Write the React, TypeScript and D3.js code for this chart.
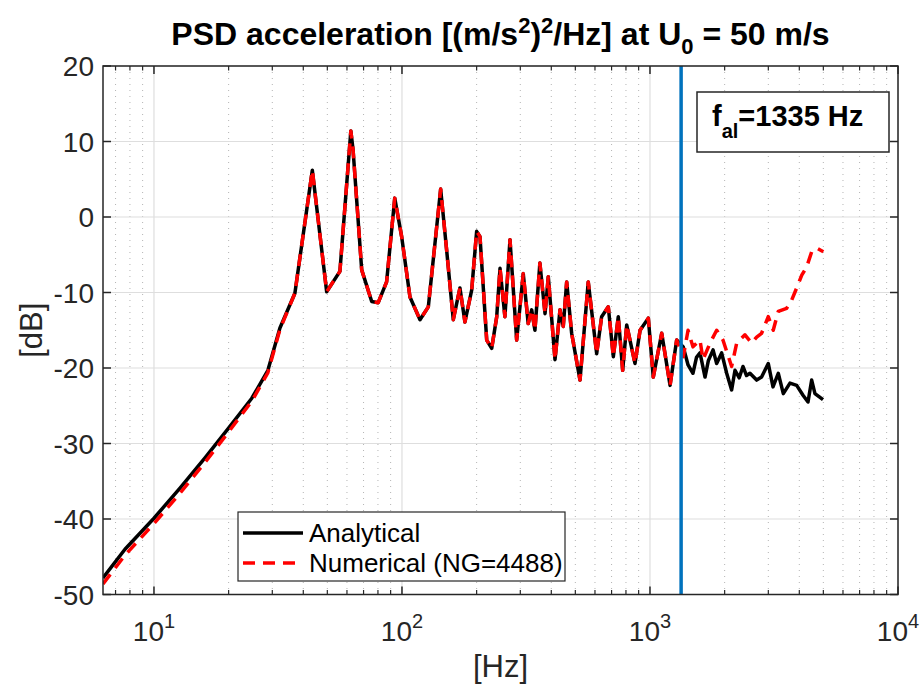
import React from "react";
import * as d3 from "d3";

// ---------- data ----------
const lowFreq = [6.23, 7.64, 10, 12.73, 16.06, 20.06, 24.8, 28.8, 32.2];
const analyticalLowDb = [-47.8, -44.0, -39.9, -35.9, -31.9, -27.9, -24.0, -20.3, -14.7];
const numericalLowDb = [-48.6, -44.8, -40.6, -36.6, -32.5, -28.4, -24.4, -20.6, -14.9];

const sharedFreq = [
  37.0, 43.5, 49.7, 56.2, 62.2, 63.5, 68.8, 75.5, 80.2, 86.7, 93.5, 99.7, 107.7, 118.2, 127.7,
  143.2, 151.4, 161, 171.3, 179.4, 191, 200, 206.3, 219.6, 230, 241, 248.5, 260, 272.6, 290,
  308.3, 322.8, 333.4, 343.6, 359.8, 377.4, 389, 414, 433.6, 447, 461.4, 483.2, 522.2, 563.7,
  609.5, 638.3, 679, 711.5, 745, 776, 805.6, 870, 912, 984.6, 1031, 1115, 1205, 1281,
];
const sharedDb = [
  -10.1, 6.2, -9.9, -7.2, 11.4, 8.9, -7.0, -11.2, -11.35, -8.6, 2.5, -2.6, -10.6, -13.6, -11.9,
  3.7, -4.4, -13.6, -9.4, -13.9, -9.7, -1.9, -2.6, -16.3, -17.4, -13.2, -6.8, -13.2, -3.0, -16.3,
  -7.5, -14.1, -12.3, -15.0, -6.1, -12.8, -7.9, -18.9, -12.3, -14.5, -8.6, -15.4, -21.6, -8.6,
  -18.1, -13.2, -11.9, -18.5, -13.2, -20.3, -14.3, -19.4, -15.0, -13.4, -21.2, -15.4, -22.3, -16.3,
];

const analyticalTailFreq = [
  1362, 1424, 1490, 1540, 1591, 1667, 1720, 1796, 1857, 1945, 2038, 2134, 2202, 2290, 2371, 2450,
  2530, 2692, 2818, 2998, 3133, 3290, 3448, 3668, 3904, 4140, 4336, 4487, 4625, 4985,
];
const analyticalTailDb = [
  -17.2, -19.6, -20.7, -18.6, -18.0, -21.2, -19.0, -17.6, -19.4, -18.0, -20.7, -22.9, -20.3, -21.3, -19.8, -21.0,
  -20.7, -21.6, -21.2, -19.4, -22.5, -20.7, -23.4, -22.0, -22.3, -23.6, -24.5, -21.6, -23.4, -24.2,
];

const numericalTailFreq = [
  1362, 1424, 1490, 1591, 1636, 1746, 1857, 1969, 2134, 2237, 2415, 2570, 2692, 2818, 2998,
  3140, 3290, 3556, 3727, 3904, 4092, 4285, 4487, 4699, 5000,
];
const numericalTailDb = [
  -18.5, -15.0, -17.2, -16.3, -18.9, -16.7, -15.0, -16.3, -19.8, -16.7, -15.6, -16.7, -15.9, -15.4, -13.2,
  -15.0, -12.5, -12.1, -11.0, -9.4, -7.7, -6.6, -4.6, -4.1, -4.6,
];

const yTickValues = [20, 10, 0, -10, -20, -30, -40, -50];
const xTickExponents = [1, 2, 3, 4];
const aliasFreq = 1335;

const seriesNames = ["Analytical", "Numerical (NG=4488)"];

// ---------- layout ----------
const W = 922;
const H = 694;
const L = 103;
const R = 898;
const T = 66;
const B = 594.5;

const FONT = "'Liberation Sans', Arial, Helvetica, sans-serif";
const AXC = "#262626";

export default function App() {
  const x = d3.scaleLog().domain([6.23, 10000]).range([L, R]);
  const y = d3.scaleLinear().domain([-50, 20]).range([B, T]);

  const analytical: [number, number][] = [
    ...lowFreq.map((f, i) => [f, analyticalLowDb[i]] as [number, number]),
    ...sharedFreq.map((f, i) => [f, sharedDb[i]] as [number, number]),
    ...analyticalTailFreq.map((f, i) => [f, analyticalTailDb[i]] as [number, number]),
  ];
  const numerical: [number, number][] = [
    ...lowFreq.map((f, i) => [f, numericalLowDb[i]] as [number, number]),
    ...sharedFreq.map((f, i) => [f, sharedDb[i]] as [number, number]),
    ...numericalTailFreq.map((f, i) => [f, numericalTailDb[i]] as [number, number]),
  ];

  const line = d3
    .line<[number, number]>()
    .x((d) => x(d[0]))
    .y((d) => y(d[1]));

  const majorX = xTickExponents.map((e) => Math.pow(10, e));
  const minorX: number[] = [];
  [0, 1, 2, 3].forEach((e) => {
    for (let k = 2; k <= 9; k++) {
      const v = k * Math.pow(10, e);
      if (v > 6.23 && v < 10000) minorX.push(v);
    }
  });

  return (
    <div style={{ position: "absolute", left: 0, top: 0 }}>
      <svg width={W} height={H} style={{ display: "block", background: "#fff" }} fontFamily={FONT}>
        <defs>
          <clipPath id="plotClip">
            <rect x={L} y={T} width={R - L} height={B - T} />
          </clipPath>
        </defs>
        <rect x={0} y={0} width={W} height={H} fill="#fff" />

        {/* minor grid */}
        {minorX.map((v) => (
          <line key={"mg" + v} x1={x(v)} x2={x(v)} y1={T} y2={B} stroke="#b4b4b4" strokeWidth={1} strokeDasharray="1,5" />
        ))}
        {/* major grid */}
        {majorX.map((v) => (
          <line key={"gx" + v} x1={x(v)} x2={x(v)} y1={T} y2={B} stroke="#dedede" strokeWidth={1.2} />
        ))}
        {yTickValues.map((v) => (
          <line key={"gy" + v} x1={L} x2={R} y1={y(v)} y2={y(v)} stroke="#dedede" strokeWidth={1.2} />
        ))}

        {/* data */}
        <g clipPath="url(#plotClip)">
          <path d={line(analytical) || ""} fill="none" stroke="#000" strokeWidth={3.5} strokeLinejoin="round" />
          <path d={line(numerical) || ""} fill="none" stroke="#ff0000" strokeWidth={3.5} strokeDasharray="12,8" strokeLinejoin="round" />
          <line x1={x(aliasFreq)} x2={x(aliasFreq)} y1={T} y2={B} stroke="#0072BD" strokeWidth={3.5} />
        </g>

        {/* axes box */}
        <rect x={L} y={T} width={R - L} height={B - T} fill="none" stroke={AXC} strokeWidth={1.5} />

        {/* ticks */}
        {majorX.map((v) => (
          <g key={"tx" + v}>
            <line x1={x(v)} x2={x(v)} y1={B} y2={B - 8} stroke={AXC} strokeWidth={1.5} />
            <line x1={x(v)} x2={x(v)} y1={T} y2={T + 8} stroke={AXC} strokeWidth={1.5} />
          </g>
        ))}
        {minorX.map((v) => (
          <g key={"mtx" + v}>
            <line x1={x(v)} x2={x(v)} y1={B} y2={B - 4.5} stroke={AXC} strokeWidth={1.2} />
            <line x1={x(v)} x2={x(v)} y1={T} y2={T + 4.5} stroke={AXC} strokeWidth={1.2} />
          </g>
        ))}
        {yTickValues.map((v) => (
          <g key={"ty" + v}>
            <line x1={L} x2={L + 8} y1={y(v)} y2={y(v)} stroke={AXC} strokeWidth={1.5} />
            <line x1={R} x2={R - 8} y1={y(v)} y2={y(v)} stroke={AXC} strokeWidth={1.5} />
          </g>
        ))}

        {/* y tick labels */}
        {yTickValues.map((v) => (
          <text key={"yl" + v} x={94} y={y(v)} dy="0.36em" textAnchor="end" fontSize={28} fill={AXC}>
            {v}
          </text>
        ))}
        {/* x tick labels */}
        {xTickExponents.map((e) => (
          <text key={"xl" + e} x={x(Math.pow(10, e))} y={641} textAnchor="middle" fontSize={28} fill={AXC}>
            10
            <tspan fontSize={20} dy={-13}>
              {e}
            </tspan>
          </text>
        ))}

        {/* axis labels */}
        <text x={(L + R) / 2} y={677} textAnchor="middle" fontSize={31} fill={AXC}>
          [Hz]
        </text>
        <text transform={`translate(42,${(T + B) / 2}) rotate(-90)`} textAnchor="middle" fontSize={31} fill={AXC}>
          [dB]
        </text>

        {/* title */}
        <text x={(L + R) / 2} y={45} textAnchor="middle" fontSize={32} fontWeight="bold" fill="#000">
          PSD acceleration [(m/s
          <tspan fontSize={22} dy={-12}>2</tspan>
          <tspan dy={12}>)</tspan>
          <tspan fontSize={22} dy={-12}>2</tspan>
          <tspan dy={12}>/Hz] at U</tspan>
          <tspan fontSize={22} dy={9}>0</tspan>
          <tspan dy={-9}> = 50 m/s</tspan>
        </text>

        {/* alias annotation */}
        <rect x={697} y={92} width={192} height={60} fill="#fff" stroke={AXC} strokeWidth={1.5} />
        <text x={712} y={126} fontSize={29} fontWeight="bold" fill="#000">
          f
          <tspan fontSize={20} dy={12}>al</tspan>
          <tspan dy={-12}>=1335 Hz</tspan>
        </text>

        {/* legend */}
        <rect x={238} y={512} width={327} height={69} fill="#fff" stroke={AXC} strokeWidth={1.2} />
        <line x1={243} x2={303} y1={533} y2={533} stroke="#000" strokeWidth={3.5} />
        <line x1={243} x2={303} y1={563} y2={563} stroke="#ff0000" strokeWidth={3.5} strokeDasharray="12,8" />
        <text x={309} y={533} dy="0.35em" fontSize={26} fill="#000">
          {seriesNames[0]}
        </text>
        <text x={309} y={563} dy="0.35em" fontSize={26} fill="#000">
          {seriesNames[1]}
        </text>
      </svg>
    </div>
  );
}
